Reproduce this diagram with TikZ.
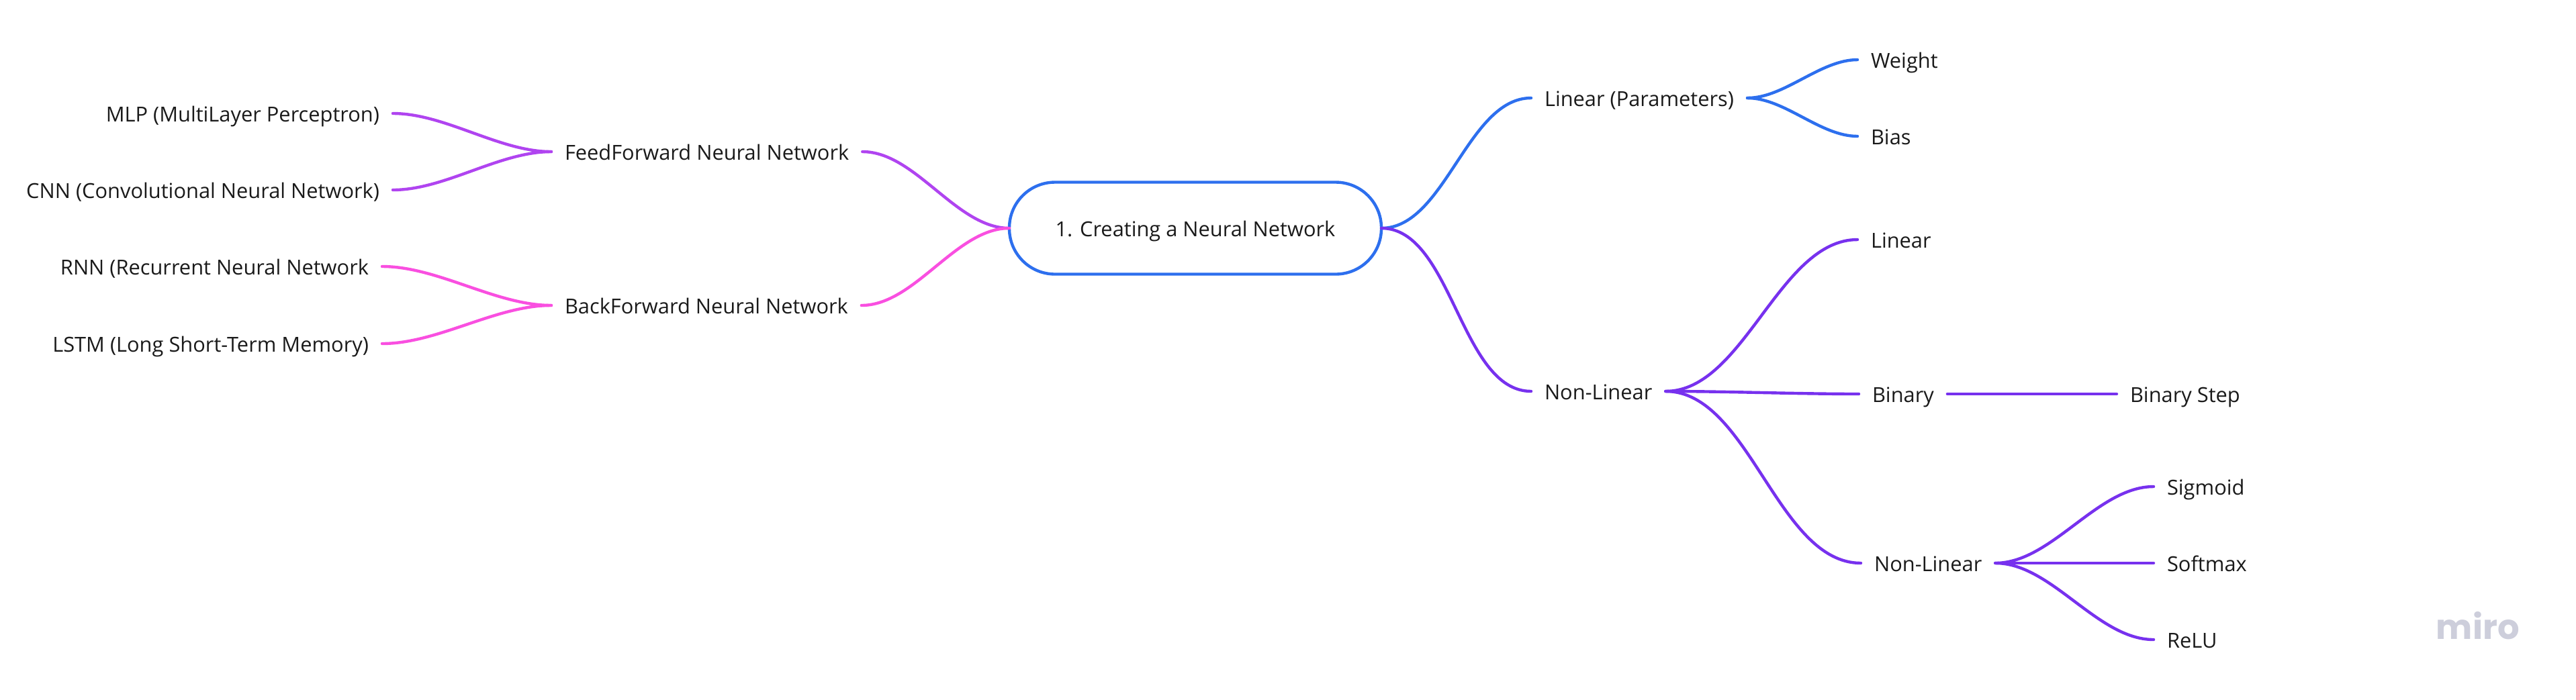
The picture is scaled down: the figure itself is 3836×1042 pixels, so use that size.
\documentclass[tikz,border=0pt]{standalone}
\usepackage{fontspec}
\setmainfont{Open Sans}
\newfontfamily\mirofont{Poppins}
\usepackage{xcolor}
\definecolor{rootblue}{HTML}{2D6FEE}
\definecolor{nonlinpurple}{HTML}{7731EE}
\definecolor{feedviolet}{HTML}{B044F0}
\definecolor{backpink}{HTML}{F94FE0}
\definecolor{miromark}{HTML}{CDCEDB}
\definecolor{labelink}{HTML}{1A1A1A}
\usetikzlibrary{positioning}
\tikzset{
  leaf/.style={inner xsep=5pt,inner ysep=0pt,outer sep=0pt,text height=7.8pt,text depth=1.5pt,text=labelink},
  link/.style={line width=1.1pt,line cap=round,out=0,in=180,looseness=0.82}
}
\begin{document}
\begin{tikzpicture}[x=0.25pt,y=-0.25pt, every node/.style={font=\fontsize{7.7pt}{9pt}\selectfont}]
  \useasboundingbox (0,0) rectangle (3836,1042);
  % centre
  \node[draw=rootblue,line width=1.1pt,rounded corners=17pt,minimum width=138.5pt,minimum height=34.25pt,outer sep=0pt,text height=7.8pt,text depth=1.5pt,text=labelink] (root) at (1780,340) {1. Creating a Neural Network};
  % left side
  \node[leaf,anchor=west] (feed) at (821,226) {FeedForward Neural Network};
  \node[leaf,anchor=west] (back) at (821,455) {BackForward Neural Network};
  \node[leaf,anchor=east] (mlp) at (585,169) {MLP (MultiLayer Perceptron)};
  \node[leaf,anchor=east] (cnn) at (585,283) {CNN (Convolutional Neural Network)};
  \node[leaf,anchor=east] (rnn) at (569,397) {RNN (Recurrent Neural Network};
  \node[leaf,anchor=east] (lstm) at (569,512) {LSTM (Long Short-Term Memory)};
  % right side
  \node[leaf,anchor=west] (params) at (2280,146) {Linear (Parameters)};
  \node[leaf,anchor=west] (weight) at (2766,89) {Weight};
  \node[leaf,anchor=west] (bias) at (2766,203) {Bias};
  \node[leaf,anchor=west] (nonlin) at (2280,583) {Non-Linear};
  \node[leaf,anchor=west] (linear) at (2766,357) {Linear};
  \node[leaf,anchor=west] (binary) at (2768,587) {Binary};
  \node[leaf,anchor=west] (binstep) at (3152,587) {Binary Step};
  \node[leaf,anchor=west] (nonlintwo) at (2771,839) {Non-Linear};
  \node[leaf,anchor=west] (sigmoid) at (3207,725) {Sigmoid};
  \node[leaf,anchor=west] (softmax) at (3207,839) {Softmax};
  \node[leaf,anchor=west] (relu) at (3207,953) {ReLU};
  \node[text=miromark,anchor=base west,inner sep=0pt] (miro) at (3627,952) {\mirofont\bfseries\fontsize{12.8pt}{14pt}\selectfont miro};

  \draw[link,feedviolet] (feed.east) to (root.west);
  \draw[link,feedviolet] (mlp.east) to (feed.west);
  \draw[link,feedviolet] (cnn.east) to (feed.west);
  \draw[link,backpink] (back.east) to (root.west);
  \draw[link,backpink] (rnn.east) to (back.west);
  \draw[link,backpink] (lstm.east) to (back.west);
  \draw[link,rootblue] (root.east) to (params.west);
  \draw[link,rootblue] (params.east) to (weight.west);
  \draw[link,rootblue] (params.east) to (bias.west);
  \draw[link,nonlinpurple] (root.east) to (nonlin.west);
  \draw[link,nonlinpurple] (nonlin.east) to (linear.west);
  \draw[link,nonlinpurple] (nonlin.east) to (binary.west);
  \draw[link,nonlinpurple] (binary.east) to (binstep.west);
  \draw[link,nonlinpurple] (nonlin.east) to (nonlintwo.west);
  \draw[link,nonlinpurple] (nonlintwo.east) to (sigmoid.west);
  \draw[link,nonlinpurple] (nonlintwo.east) to (softmax.west);
  \draw[link,nonlinpurple] (nonlintwo.east) to (relu.west);
\end{tikzpicture}
\end{document}
